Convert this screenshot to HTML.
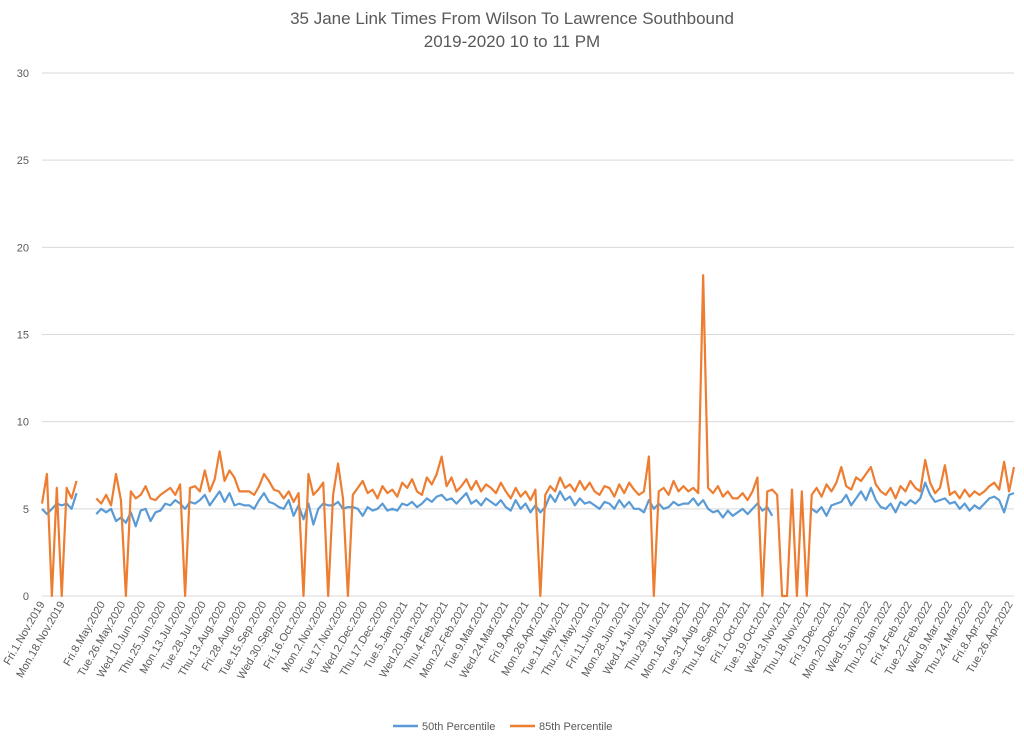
<!DOCTYPE html>
<html><head><meta charset="utf-8"><style>
html,body{margin:0;padding:0;background:#fff;}
svg{display:block;font-family:"Liberation Sans",sans-serif;}
</style></head><body>
<svg id="chart" width="1024" height="740" viewBox="0 0 1024 740" xmlns="http://www.w3.org/2000/svg">
<text x="512" y="24" text-anchor="middle" font-size="17" fill="#595959">35 Jane Link Times From Wilson To Lawrence Southbound</text>
<text x="512" y="47" text-anchor="middle" font-size="17" fill="#595959">2019-2020 10 to 11 PM</text>
<g id="grid"></g>
<g id="yticks"></g>
<g id="xticks"></g>
<g id="series"></g>
<g>
<line x1="393" y1="726" x2="418" y2="726" stroke="#5b9bd5" stroke-width="2.5"/>
<text x="422" y="730" font-size="11" fill="#595959">50th Percentile</text>
<line x1="510" y1="726" x2="535" y2="726" stroke="#ed7d31" stroke-width="2.5"/>
<text x="539" y="730" font-size="11" fill="#595959">85th Percentile</text>
</g>
</svg>
<script>
const yTicks = [0,5,10,15,20,25,30];
const tickLabels = ["Fri.1.Nov.2019","Mon.18.Nov.2019","","Fri.8.May.2020","Tue.26.May.2020","Wed.10.Jun.2020","Thu.25.Jun.2020","Mon.13.Jul.2020","Tue.28.Jul.2020","Thu.13.Aug.2020","Fri.28.Aug.2020","Tue.15.Sep.2020","Wed.30.Sep.2020","Fri.16.Oct.2020","Mon.2.Nov.2020","Tue.17.Nov.2020","Wed.2.Dec.2020","Thu.17.Dec.2020","Tue.5.Jan.2021","Wed.20.Jan.2021","Thu.4.Feb.2021","Mon.22.Feb.2021","Tue.9.Mar.2021","Wed.24.Mar.2021","Fri.9.Apr.2021","Mon.26.Apr.2021","Tue.11.May.2021","Thu.27.May.2021","Fri.11.Jun.2021","Mon.28.Jun.2021","Wed.14.Jul.2021","Thu.29.Jul.2021","Mon.16.Aug.2021","Tue.31.Aug.2021","Thu.16.Sep.2021","Fri.1.Oct.2021","Tue.19.Oct.2021","Wed.3.Nov.2021","Thu.18.Nov.2021","Fri.3.Dec.2021","Mon.20.Dec.2021","Wed.5.Jan.2022","Thu.20.Jan.2022","Fri.4.Feb.2022","Tue.22.Feb.2022","Wed.9.Mar.2022","Thu.24.Mar.2022","Fri.8.Apr.2022","Tue.26.Apr.2022"];
const p50 = [
5.0,4.7,5.0,5.3,5.2,5.3,5.0,5.9,null,null,null,
4.7,5.0,4.8,5.0,4.3,4.5,4.2,4.8,4.0,4.9,
5.0,4.3,4.8,4.9,5.3,5.2,5.5,5.3,5.0,5.4,
5.3,5.5,5.8,5.2,5.6,6.0,5.4,5.9,5.2,5.3,
5.2,5.2,5.0,5.5,5.9,5.4,5.3,5.1,5.0,5.5,
4.6,5.2,4.4,5.3,4.1,5.0,5.3,5.2,5.2,5.4,
5.0,5.1,5.1,5.0,4.6,5.1,4.9,5.0,5.3,4.9,
5.0,4.9,5.3,5.2,5.4,5.1,5.3,5.6,5.4,5.7,
5.8,5.5,5.6,5.3,5.6,5.9,5.3,5.5,5.2,5.6,
5.4,5.2,5.5,5.1,4.9,5.5,5.0,5.3,4.8,5.2,
4.8,5.1,5.8,5.4,6.0,5.5,5.7,5.2,5.6,5.3,
5.4,5.2,5.0,5.4,5.3,5.0,5.5,5.1,5.4,5.0,
5.0,4.8,5.5,5.0,5.3,5.0,5.1,5.4,5.2,5.3,
5.3,5.6,5.2,5.5,5.0,4.8,4.9,4.5,4.9,4.6,
4.8,5.0,4.7,5.0,5.3,4.9,5.1,4.6,null,null,
null,null,null,null,null,5.0,4.8,5.1,4.6,5.2,
5.3,5.4,5.8,5.2,5.6,6.0,5.5,6.2,5.5,5.1,
5.0,5.3,4.8,5.4,5.2,5.5,5.3,5.6,6.5,5.8,
5.4,5.5,5.6,5.3,5.4,5.0,5.3,4.9,5.2,5.0,
5.3,5.6,5.7,5.5,4.8,5.8,5.9];
const p85 = [
5.3,7.0,0,6.2,0,6.2,5.6,6.6,null,null,null,
5.6,5.3,5.8,5.2,7.0,5.5,0,6.0,5.6,5.8,
6.3,5.6,5.5,5.8,6.0,6.2,5.8,6.4,0,6.2,
6.3,6.0,7.2,6.0,6.7,8.3,6.6,7.2,6.8,6.0,
6.0,6.0,5.8,6.3,7.0,6.6,6.1,6.0,5.6,6.0,
5.4,5.9,0,7.0,5.8,6.1,6.5,0,5.8,7.6,
5.6,0,5.8,6.2,6.6,5.9,6.1,5.6,6.3,5.9,
6.1,5.7,6.5,6.2,6.7,6.0,5.8,6.8,6.4,7.0,
8.0,6.3,6.8,6.0,6.3,6.7,6.1,6.6,6.0,6.4,
6.2,5.9,6.5,6.0,5.6,6.2,5.7,6.0,5.5,6.1,
0,5.8,6.3,6.0,6.8,6.2,6.4,6.0,6.6,6.1,
6.5,6.0,5.8,6.3,6.2,5.7,6.4,5.9,6.5,6.1,
5.8,6.0,8.0,0,6.0,6.2,5.8,6.6,6.0,6.3,
6.0,6.2,5.9,18.4,6.2,5.9,6.3,5.7,6.0,5.6,
5.6,5.9,5.5,6.0,6.8,0,6.0,6.1,5.8,0,
0,6.1,0,6.0,0,5.8,6.2,5.7,6.4,6.0,
6.5,7.4,6.3,6.1,6.8,6.6,7.0,7.4,6.4,6.0,
5.8,6.2,5.6,6.3,6.0,6.6,6.2,6.0,7.8,6.5,
5.9,6.2,7.5,5.8,6.0,5.6,6.1,5.7,6.0,5.8,
6.0,6.3,6.5,6.1,7.7,6.0,7.4];

const NS = "http://www.w3.org/2000/svg";
const X0 = 42, XDATA1 = 1014, XLAB1 = 1010, Y0 = 596, Y30 = 73;
function xScale(i){ return X0 + i * (XDATA1 - X0) / (p50.length - 1); }
function xLabel(k){ return X0 + k * (XLAB1 - X0) / (tickLabels.length - 1); }
function yScale(v){ return Y0 - v * (Y0 - Y30) / 30; }

const grid = document.getElementById('grid');
const yt = document.getElementById('yticks');
yTicks.forEach(v => {
  const l = document.createElementNS(NS,'line');
  
  
  l.setAttribute('x1', X0); l.setAttribute('x2', 1014);
  l.setAttribute('y1', yScale(v)); l.setAttribute('y2', yScale(v));
  l.setAttribute('stroke', '#d9d9d9'); l.setAttribute('stroke-width', '1');
  grid.appendChild(l);
  const t = document.createElementNS(NS,'text');
  
  
  t.setAttribute('x', 29); t.setAttribute('y', yScale(v) + 4);
  t.setAttribute('text-anchor', 'end'); t.setAttribute('font-size', '11'); t.setAttribute('fill', '#595959');
  t.textContent = v;
  yt.appendChild(t);
});

const xt = document.getElementById('xticks');
tickLabels.forEach((lab, k) => {
  if (!lab) return;
  const x = xLabel(k) + 3, y = 604;
  const t = document.createElementNS(NS,'text');
  
  
  t.setAttribute('x', x); t.setAttribute('y', y);
  t.setAttribute('text-anchor', 'end'); t.setAttribute('font-size', '11'); t.setAttribute('fill', '#595959');
  t.setAttribute('transform', 'rotate(-60 ' + x + ' ' + y + ')');
  t.textContent = lab;
  xt.appendChild(t);
});

function drawSeries(vals, color, name){
  let d = '', pen = false;
  vals.forEach((v, i) => {
    if (v === null) { pen = false; return; }
    d += (pen ? 'L' : 'M') + xScale(i).toFixed(2) + ' ' + yScale(v).toFixed(2) + ' ';
    pen = true;
  });
  const p = document.createElementNS(NS,'path');
  
  
  p.setAttribute('d', d);
  p.setAttribute('fill', 'none'); p.setAttribute('stroke', color);
  p.setAttribute('stroke-width', '2.2'); p.setAttribute('stroke-linejoin', 'round');
  document.getElementById('series').appendChild(p);
}
drawSeries(p50, '#5b9bd5', 'line-50th-percentile');
drawSeries(p85, '#ed7d31', 'line-85th-percentile');
</script>
</body></html>
